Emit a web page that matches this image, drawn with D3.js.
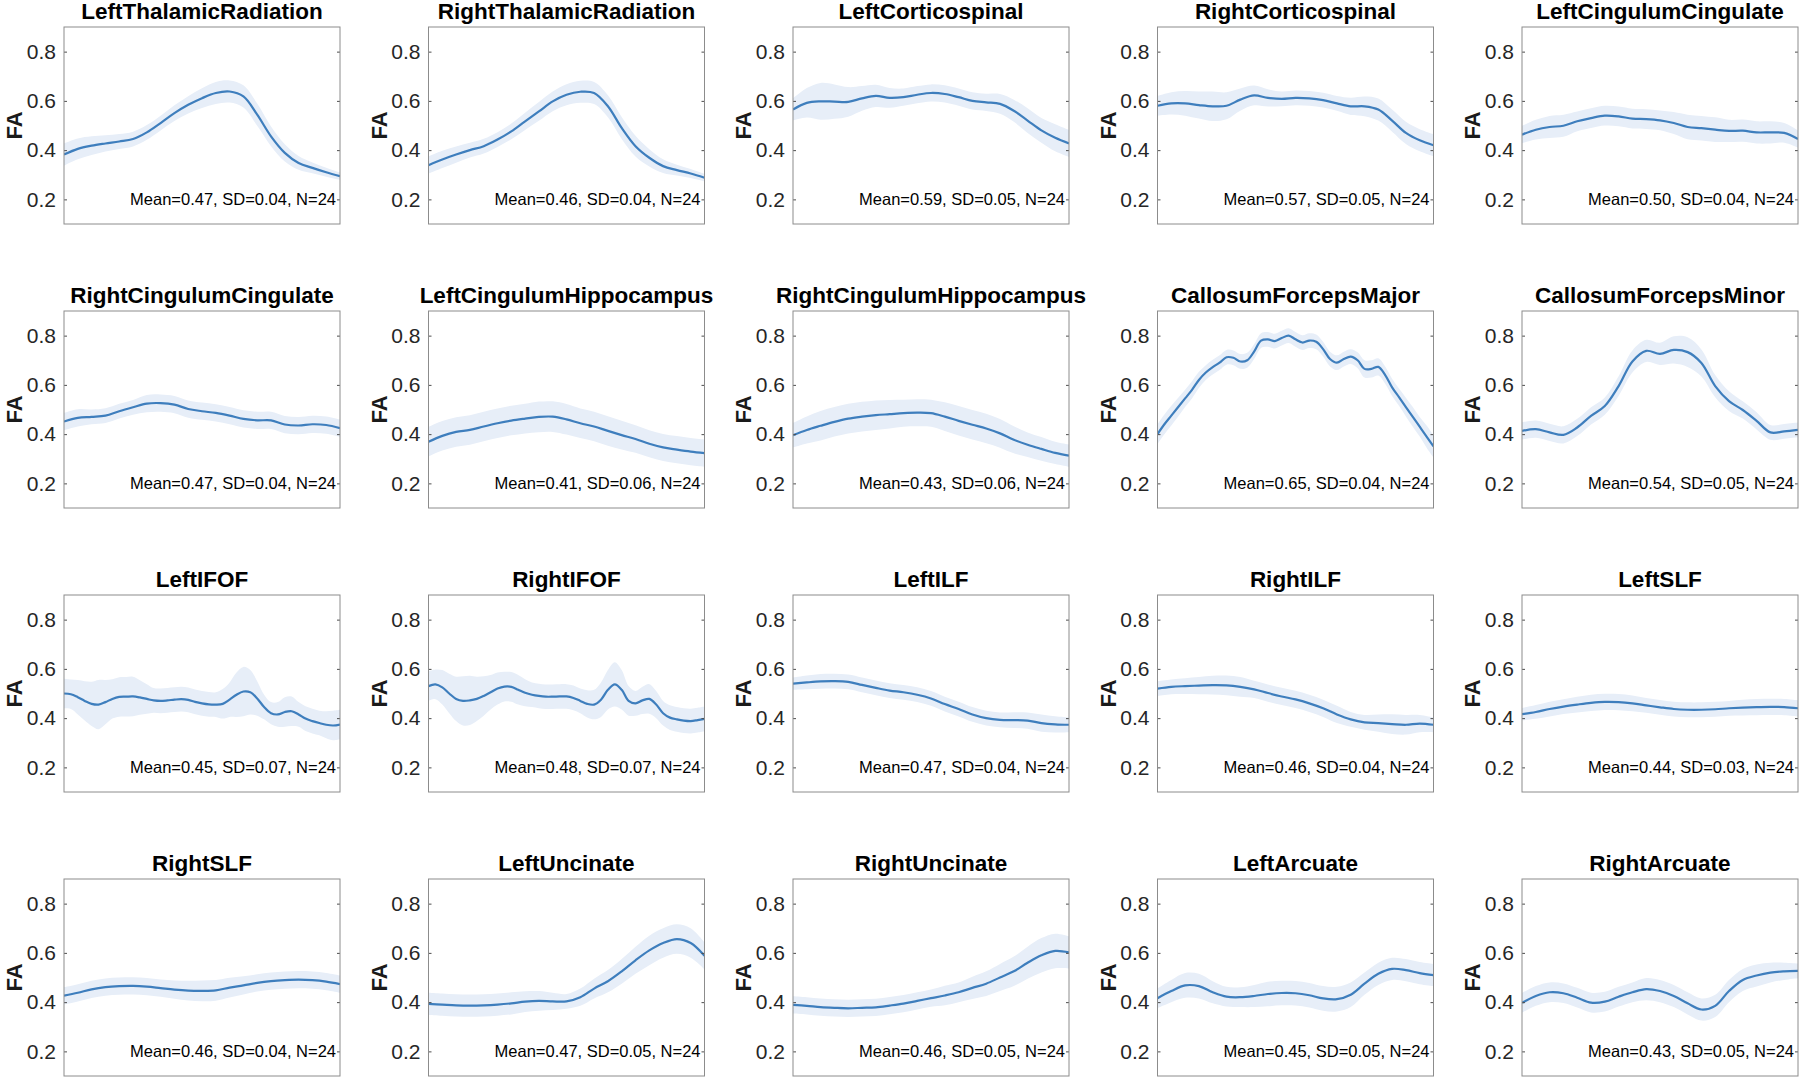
<!DOCTYPE html>
<html>
<head>
<meta charset="utf-8">
<script src="https://cdn.jsdelivr.net/npm/d3@7"></script>
<style>
  html, body { margin: 0; padding: 0; background: #ffffff; }
  svg { display: block; }
</style>
</head>
<body>
<svg id="chart" width="1800" height="1079"></svg>
<script>
// ---------- DATA ----------
const tracts = [
  "LeftThalamicRadiation", "RightThalamicRadiation", "LeftCorticospinal", "RightCorticospinal", "LeftCingulumCingulate",
  "RightCingulumCingulate", "LeftCingulumHippocampus", "RightCingulumHippocampus", "CallosumForcepsMajor", "CallosumForcepsMinor",
  "LeftIFOF", "RightIFOF", "LeftILF", "RightILF", "LeftSLF",
  "RightSLF", "LeftUncinate", "RightUncinate", "LeftArcuate", "RightArcuate"
];
const meanFA = [0.47,0.46,0.59,0.57,0.50,0.47,0.41,0.43,0.65,0.54,0.45,0.48,0.47,0.46,0.44,0.46,0.47,0.46,0.45,0.43];
const sdFA   = [0.04,0.04,0.05,0.05,0.04,0.04,0.06,0.06,0.04,0.05,0.07,0.07,0.04,0.04,0.03,0.04,0.05,0.05,0.05,0.05];
const nSubjects = [24,24,24,24,24,24,24,24,24,24,24,24,24,24,24,24,24,24,24,24];
const yTicks = [0.2, 0.4, 0.6, 0.8];
const yDomain = [0.1, 0.9];
const nodeDomain = [0, 100];

// tract profiles (mean FA along nodes, evenly spaced 0..100)
const profileMean = [
  [0.382,0.405,0.418,0.427,0.435,0.445,0.472,0.51,0.55,0.584,0.611,0.632,0.638,0.618,0.544,0.456,0.389,0.348,0.328,0.31,0.294],
  [0.339,0.362,0.382,0.40,0.416,0.443,0.476,0.517,0.557,0.598,0.625,0.637,0.632,0.578,0.49,0.416,0.369,0.335,0.319,0.305,0.288],
  [0.565,0.592,0.598,0.597,0.596,0.61,0.62,0.612,0.615,0.625,0.632,0.628,0.615,0.60,0.594,0.588,0.56,0.52,0.48,0.45,0.427],
  [0.58,0.59,0.59,0.583,0.578,0.58,0.605,0.622,0.612,0.608,0.612,0.61,0.603,0.59,0.578,0.578,0.565,0.52,0.47,0.44,0.42],
  [0.463,0.483,0.494,0.499,0.517,0.53,0.54,0.537,0.528,0.526,0.521,0.51,0.494,0.489,0.483,0.478,0.479,0.472,0.472,0.47,0.445],
  [0.451,0.466,0.47,0.475,0.493,0.509,0.524,0.526,0.52,0.502,0.493,0.486,0.475,0.462,0.456,0.456,0.439,0.435,0.44,0.437,0.424],
  [0.369,0.393,0.409,0.417,0.431,0.444,0.455,0.463,0.47,0.471,0.46,0.444,0.431,0.413,0.396,0.38,0.361,0.346,0.337,0.329,0.323],
  [0.396,0.417,0.434,0.45,0.463,0.471,0.477,0.481,0.485,0.487,0.485,0.471,0.454,0.438,0.423,0.403,0.377,0.357,0.34,0.324,0.313],
  [0.40,0.44,0.475,0.51,0.545,0.58,0.62,0.65,0.672,0.69,0.712,0.71,0.695,0.70,0.735,0.78,0.785,0.778,0.79,0.80,0.785,
   0.772,0.78,0.775,0.745,0.705,0.69,0.705,0.715,0.70,0.665,0.665,0.673,0.64,0.59,0.55,0.51,0.47,0.43,0.39,0.35],
  [0.413,0.42,0.407,0.397,0.427,0.474,0.514,0.595,0.695,0.738,0.726,0.742,0.733,0.689,0.595,0.534,0.498,0.454,0.407,0.411,0.417],
  [0.50,0.497,0.485,0.47,0.458,0.455,0.465,0.478,0.486,0.487,0.488,0.484,0.478,0.472,0.47,0.472,0.475,0.477,0.474,0.466,0.46,
   0.456,0.455,0.458,0.475,0.495,0.508,0.505,0.48,0.445,0.42,0.415,0.425,0.428,0.415,0.398,0.388,0.38,0.373,0.37,0.374],
  [0.53,0.537,0.525,0.50,0.478,0.47,0.472,0.478,0.49,0.505,0.52,0.528,0.527,0.515,0.503,0.495,0.49,0.487,0.487,0.488,0.488,
   0.482,0.47,0.458,0.455,0.475,0.515,0.537,0.515,0.47,0.46,0.472,0.478,0.455,0.42,0.402,0.395,0.39,0.388,0.392,0.397],
  [0.54,0.545,0.549,0.55,0.547,0.535,0.523,0.512,0.505,0.495,0.48,0.457,0.437,0.415,0.40,0.393,0.392,0.39,0.38,0.375,0.373],
  [0.52,0.527,0.53,0.532,0.534,0.533,0.527,0.517,0.502,0.488,0.476,0.46,0.44,0.415,0.395,0.383,0.38,0.376,0.373,0.378,0.373],
  [0.416,0.425,0.437,0.447,0.455,0.462,0.466,0.465,0.46,0.452,0.444,0.437,0.434,0.434,0.436,0.44,0.443,0.445,0.446,0.445,0.44],
  [0.426,0.438,0.452,0.461,0.465,0.466,0.463,0.457,0.451,0.447,0.446,0.448,0.459,0.468,0.478,0.485,0.489,0.491,0.489,0.483,0.473],
  [0.393,0.39,0.387,0.386,0.387,0.39,0.395,0.402,0.405,0.403,0.403,0.42,0.455,0.485,0.525,0.57,0.61,0.64,0.656,0.64,0.588],
  [0.389,0.385,0.38,0.377,0.375,0.377,0.379,0.386,0.394,0.405,0.416,0.427,0.44,0.458,0.475,0.50,0.525,0.56,0.59,0.608,0.602],
  [0.416,0.445,0.468,0.465,0.44,0.422,0.42,0.425,0.433,0.437,0.436,0.428,0.415,0.412,0.43,0.475,0.515,0.535,0.53,0.518,0.51],
  [0.397,0.425,0.44,0.436,0.418,0.398,0.402,0.422,0.44,0.453,0.445,0.425,0.395,0.37,0.385,0.445,0.49,0.508,0.52,0.525,0.527]
];

// half-width of the shaded band (FA units) at the same nodes
const profileBand = [
  [0.045,0.042,0.038,0.033,0.03,0.03,0.03,0.03,0.032,0.035,0.04,0.045,0.045,0.045,0.045,0.04,0.035,0.028,0.022,0.018,0.015],
  [0.035,0.035,0.033,0.03,0.03,0.03,0.032,0.035,0.038,0.04,0.043,0.045,0.045,0.045,0.045,0.042,0.035,0.028,0.022,0.018,0.015],
  [0.045,0.06,0.075,0.07,0.06,0.05,0.045,0.04,0.035,0.035,0.035,0.035,0.035,0.035,0.035,0.04,0.045,0.05,0.05,0.055,0.055],
  [0.04,0.045,0.05,0.055,0.06,0.055,0.045,0.04,0.035,0.03,0.03,0.03,0.03,0.03,0.035,0.04,0.045,0.045,0.045,0.045,0.045],
  [0.035,0.04,0.045,0.045,0.04,0.04,0.04,0.04,0.04,0.04,0.04,0.045,0.05,0.05,0.05,0.045,0.045,0.045,0.045,0.04,0.035],
  [0.035,0.035,0.03,0.03,0.03,0.03,0.035,0.035,0.035,0.035,0.035,0.035,0.035,0.035,0.035,0.035,0.035,0.035,0.035,0.035,0.035],
  [0.06,0.06,0.06,0.06,0.06,0.06,0.06,0.06,0.062,0.062,0.062,0.06,0.06,0.06,0.058,0.056,0.055,0.055,0.055,0.055,0.055],
  [0.05,0.055,0.06,0.06,0.06,0.06,0.06,0.058,0.055,0.055,0.055,0.058,0.06,0.06,0.06,0.058,0.055,0.05,0.048,0.045,0.045],
  [0.04,0.04,0.04,0.038,0.035,0.035,0.033,0.03,0.03,0.03,0.03,0.03,0.03,0.03,0.03,0.03,0.03,0.03,0.03,0.03,0.03,
   0.03,0.03,0.03,0.03,0.03,0.03,0.03,0.03,0.032,0.035,0.035,0.035,0.035,0.035,0.035,0.038,0.04,0.04,0.045,0.045],
  [0.035,0.035,0.035,0.035,0.035,0.035,0.035,0.04,0.045,0.045,0.045,0.055,0.06,0.055,0.045,0.04,0.035,0.035,0.03,0.03,0.03],
  [0.06,0.06,0.07,0.08,0.09,0.10,0.09,0.08,0.08,0.08,0.08,0.07,0.06,0.05,0.05,0.05,0.05,0.05,0.05,0.05,0.05,
   0.05,0.05,0.06,0.07,0.09,0.10,0.09,0.07,0.05,0.045,0.05,0.06,0.06,0.05,0.05,0.05,0.05,0.055,0.06,0.06],
  [0.06,0.06,0.07,0.08,0.09,0.10,0.10,0.09,0.08,0.07,0.065,0.06,0.06,0.06,0.055,0.05,0.05,0.05,0.05,0.05,0.05,
   0.05,0.05,0.055,0.06,0.07,0.08,0.09,0.08,0.06,0.05,0.055,0.06,0.055,0.05,0.05,0.05,0.05,0.05,0.05,0.05],
  [0.025,0.028,0.03,0.03,0.03,0.03,0.03,0.03,0.03,0.03,0.03,0.03,0.03,0.03,0.03,0.03,0.032,0.033,0.035,0.033,0.03],
  [0.03,0.03,0.032,0.035,0.038,0.04,0.04,0.035,0.035,0.035,0.035,0.035,0.035,0.035,0.03,0.03,0.035,0.04,0.04,0.035,0.03],
  [0.025,0.028,0.03,0.03,0.032,0.033,0.033,0.033,0.032,0.03,0.03,0.03,0.03,0.03,0.03,0.03,0.032,0.033,0.033,0.033,0.033],
  [0.035,0.035,0.035,0.035,0.035,0.035,0.035,0.035,0.037,0.04,0.042,0.042,0.04,0.037,0.035,0.035,0.035,0.035,0.035,0.035,0.035],
  [0.045,0.045,0.045,0.045,0.045,0.045,0.045,0.042,0.04,0.035,0.03,0.035,0.04,0.045,0.05,0.055,0.06,0.06,0.06,0.06,0.055],
  [0.035,0.035,0.035,0.035,0.035,0.035,0.035,0.035,0.035,0.035,0.035,0.04,0.04,0.045,0.05,0.055,0.06,0.065,0.07,0.07,0.065],
  [0.04,0.045,0.05,0.05,0.045,0.04,0.04,0.045,0.05,0.05,0.05,0.05,0.05,0.05,0.05,0.045,0.045,0.045,0.045,0.045,0.045],
  [0.04,0.04,0.04,0.04,0.04,0.04,0.04,0.04,0.04,0.045,0.045,0.045,0.045,0.045,0.045,0.045,0.045,0.045,0.04,0.035,0.03]
];

// ---------- LAYOUT ----------
const nCols = 5;
const boxW = 276, boxH = 197;
const left0 = 64, top0 = 27, colStep = 364.5, rowStep = 284;
const lineColor = "#3e7ebd";
const bandColor = "#e7eef8";
const font = "'Liberation Sans', Arial, Helvetica, sans-serif";

const svg = d3.select("#chart");
const x = d3.scaleLinear().domain(nodeDomain).range([0, boxW]);
const y = d3.scaleLinear().domain(yDomain).range([boxH, 0]);

tracts.forEach((name, i) => {
  const c = i % nCols, r = Math.floor(i / nCols);
  const g = svg.append("g").attr("transform", `translate(${left0 + c * colStep},${top0 + r * rowStep})`);

  const m = profileMean[i], b = profileBand[i];
  const n = m.length;
  const pts = m.map((v, k) => ({ node: nodeDomain[0] + (nodeDomain[1] - nodeDomain[0]) * k / (n - 1), v, h: b[k] }));

  const clipId = "clip" + i;
  g.append("clipPath").attr("id", clipId).append("rect").attr("width", boxW).attr("height", boxH);

  const plot = g.append("g").attr("clip-path", `url(#${clipId})`);
  const curve = d3.curveCatmullRom.alpha(0.5);
  plot.append("path")
    .datum(pts)
    .attr("fill", bandColor)
    .attr("d", d3.area().curve(curve).x(d => x(d.node)).y0(d => y(d.v - d.h)).y1(d => y(d.v + d.h)));
  plot.append("path")
    .datum(pts)
    .attr("fill", "none")
    .attr("stroke", lineColor)
    .attr("stroke-width", 2.2)
    .attr("d", d3.line().curve(curve).x(d => x(d.node)).y(d => y(d.v)));

  // axes
  const ax = g.append("g")
    .call(d3.axisLeft(y).tickValues(yTicks).tickSize(-3).tickPadding(8).tickFormat(d3.format(".1f")));
  ax.select(".domain").remove();
  ax.selectAll(".tick line").attr("stroke", "#4d4d4d");
  ax.selectAll(".tick text").attr("fill", "#262626").style("font-family", font).style("font-size", "21px");

  const axR = g.append("g").attr("transform", `translate(${boxW},0)`)
    .call(d3.axisRight(y).tickValues(yTicks).tickSize(-3).tickFormat(""));
  axR.select(".domain").remove();
  axR.selectAll(".tick line").attr("stroke", "#4d4d4d");

  // box
  g.append("rect").attr("width", boxW).attr("height", boxH)
    .attr("fill", "none").attr("stroke", "#8c8c8c").attr("stroke-width", 1);

  // title
  g.append("text")
    .attr("x", boxW / 2).attr("y", -8)
    .attr("text-anchor", "middle")
    .style("font-family", font).style("font-size", "22.5px").style("font-weight", "bold")
    .attr("fill", "#000")
    .text(name);

  // y label
  g.append("text")
    .attr("transform", `translate(-42,${boxH / 2}) rotate(-90)`)
    .attr("text-anchor", "middle")
    .style("font-family", font).style("font-size", "22px").style("font-weight", "bold")
    .attr("fill", "#1a1a1a")
    .text("FA");

  // stats
  g.append("text")
    .attr("x", boxW - 4).attr("y", y(0.2) + 6)
    .attr("text-anchor", "end")
    .style("font-family", font).style("font-size", "16.5px")
    .attr("fill", "#000")
    .text(`Mean=${meanFA[i].toFixed(2)}, SD=${sdFA[i].toFixed(2)}, N=${nSubjects[i]}`);
});
</script>
</body>
</html>
